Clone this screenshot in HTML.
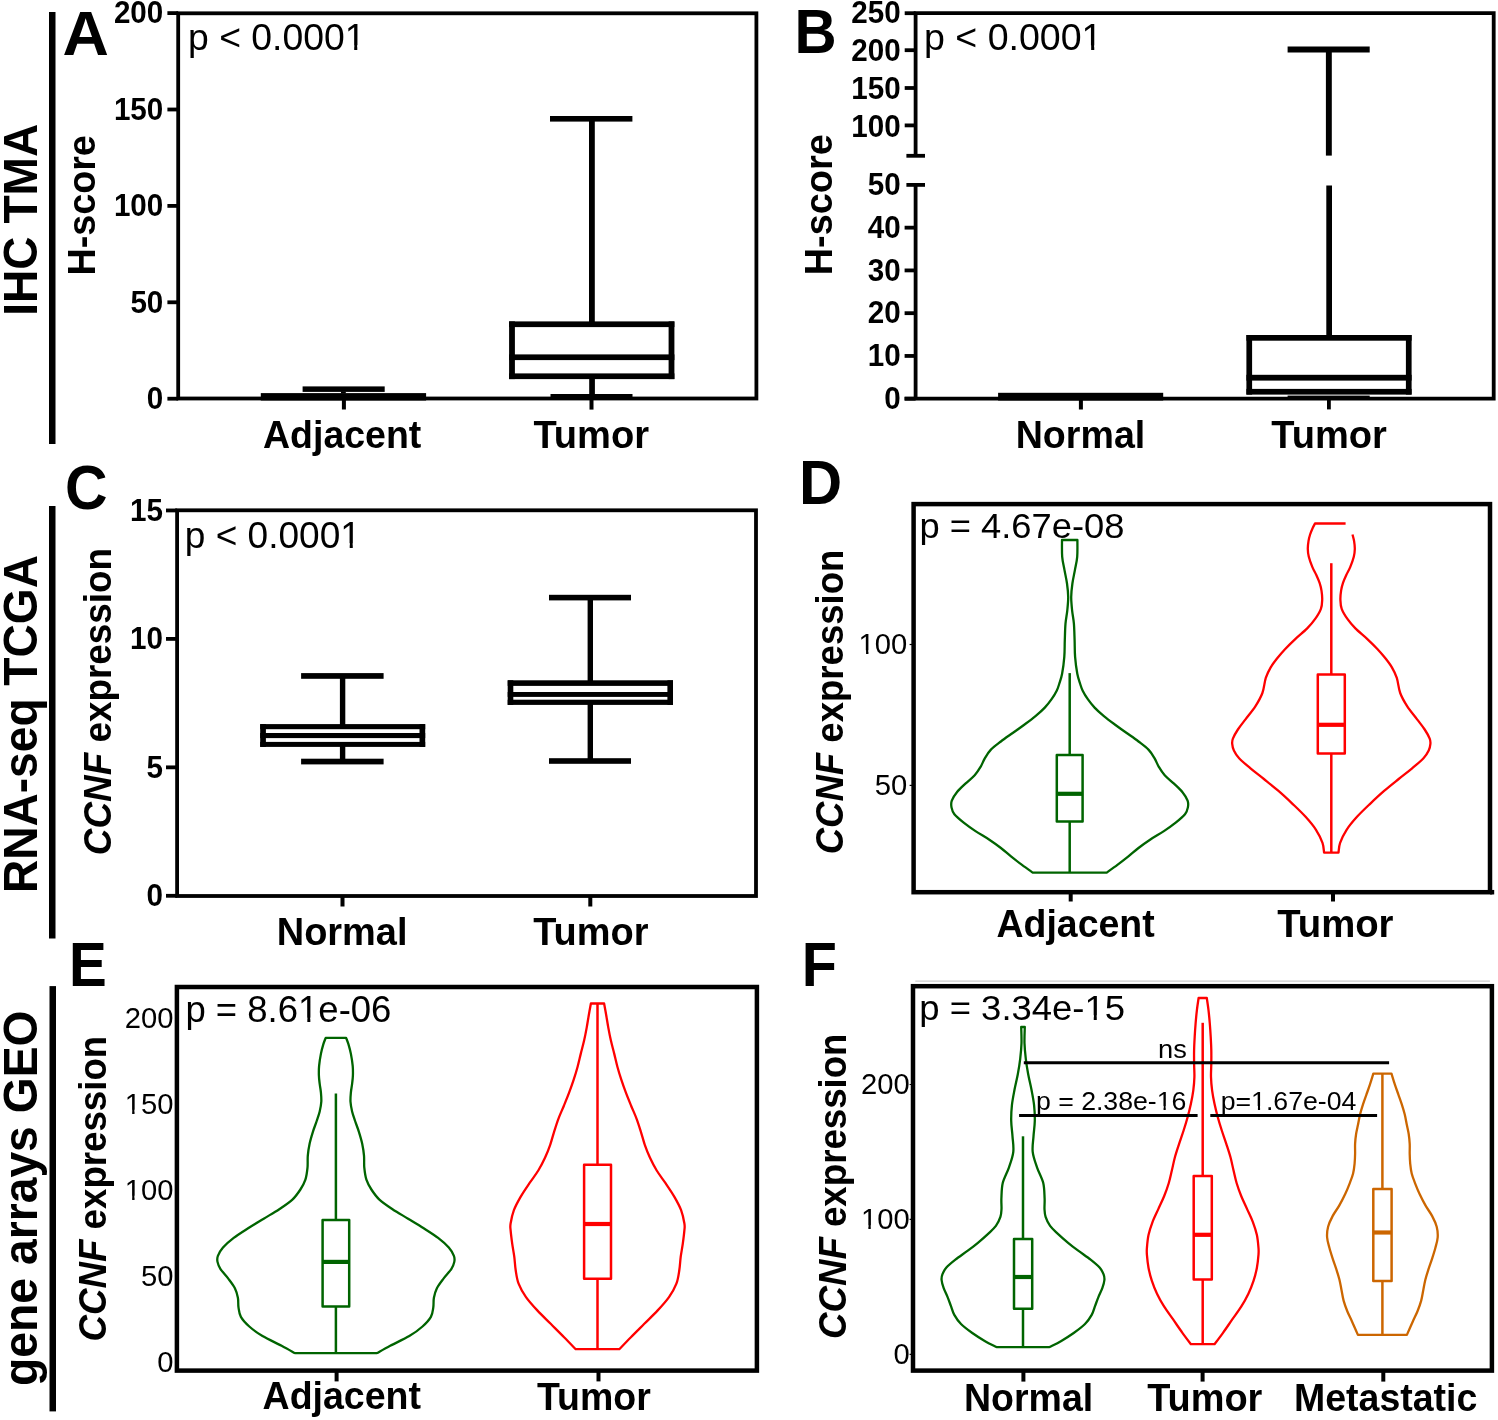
<!DOCTYPE html>
<html><head><meta charset="utf-8"><title>figure</title>
<style>html,body{margin:0;padding:0;background:#fff;}body{width:1498px;height:1420px;overflow:hidden;}svg{display:block;will-change:transform;}text{fill:#000;}</style>
</head><body>
<svg width="1498" height="1420" viewBox="0 0 1498 1420" font-family="Liberation Sans, sans-serif">
<rect x="0" y="0" width="1498" height="1420" fill="#fff"></rect>
<rect x="49" y="12" width="6.5" height="432" fill="#000"></rect>
<rect x="49" y="506" width="6.5" height="432.5" fill="#000"></rect>
<rect x="49.5" y="986.1" width="6.5" height="425.3" fill="#000"></rect>
<text transform="translate(37,315.8) rotate(-90) scale(1.0022,1.0400)" font-size="46" font-weight="bold" text-anchor="start">IHC TMA</text>
<text transform="translate(36.8,893.1) rotate(-90) scale(1.0024,1.0400)" font-size="46" font-weight="bold" text-anchor="start">RNA-seq TCGA</text>
<text transform="translate(36.6,1385.9) rotate(-90) scale(1.0060,1.0400)" font-size="46" font-weight="bold" text-anchor="start">gene arrays GEO</text>
<text transform="translate(62.4,55) scale(1.0704,1.0400)" font-size="60" font-weight="bold" text-anchor="start">A</text>
<text transform="translate(794.45,52.8) scale(0.9721,1.0400)" font-size="60" font-weight="bold" text-anchor="start">B</text>
<text transform="translate(65.1,509.3) scale(0.9807,1.0400)" font-size="60" font-weight="bold" text-anchor="start">C</text>
<text transform="translate(798.9,504.1) scale(0.9966,1.0400)" font-size="60" font-weight="bold" text-anchor="start">D</text>
<text transform="translate(69.02,985.9) scale(0.9436,1.0400)" font-size="60" font-weight="bold" text-anchor="start">E</text>
<text transform="translate(801.85,986.2) scale(0.9590,1.0400)" font-size="60" font-weight="bold" text-anchor="start">F</text>
<rect x="178.2" y="13.3" width="578.2" height="385.2" fill="none" stroke="#000" stroke-width="3.8"></rect>
<line x1="167.4" y1="398.7" x2="178.2" y2="398.7" stroke="#000" stroke-width="3.8" stroke-linecap="butt"></line>
<text transform="translate(163.32,408.96) scale(1.0044,1.0400)" font-size="29.5" font-weight="bold" text-anchor="end">0</text>
<line x1="167.4" y1="302.3" x2="178.2" y2="302.3" stroke="#000" stroke-width="3.8" stroke-linecap="butt"></line>
<text transform="translate(163.32,312.56) scale(1.0044,1.0400)" font-size="29.5" font-weight="bold" text-anchor="end">50</text>
<line x1="167.4" y1="205.9" x2="178.2" y2="205.9" stroke="#000" stroke-width="3.8" stroke-linecap="butt"></line>
<text transform="translate(163.32,216.16) scale(1.0044,1.0400)" font-size="29.5" font-weight="bold" text-anchor="end">100</text>
<line x1="167.4" y1="109.5" x2="178.2" y2="109.5" stroke="#000" stroke-width="3.8" stroke-linecap="butt"></line>
<text transform="translate(163.32,119.76) scale(1.0044,1.0400)" font-size="29.5" font-weight="bold" text-anchor="end">150</text>
<line x1="167.4" y1="13.1" x2="178.2" y2="13.1" stroke="#000" stroke-width="3.8" stroke-linecap="butt"></line>
<text transform="translate(163.32,23.36) scale(1.0044,1.0400)" font-size="29.5" font-weight="bold" text-anchor="end">200</text>
<rect x="341.9" y="398.5" width="4" height="11" fill="#000"></rect>
<rect x="589.5" y="398.5" width="4" height="11.1" fill="#000"></rect>
<rect x="260.8" y="393.1" width="165.3" height="7.4" fill="#000"></rect>
<rect x="302.6" y="386.4" width="82.1" height="5.5" fill="#000"></rect>
<rect x="341" y="391.5" width="4.8" height="2" fill="#000"></rect>
<rect x="550" y="116" width="82.4" height="5.6" fill="#000"></rect>
<rect x="589" y="119" width="5.8" height="203" fill="#000"></rect>
<rect x="509.1" y="321.4" width="5.8" height="57.7" fill="#000"></rect>
<rect x="668.6" y="321.4" width="5.8" height="57.7" fill="#000"></rect>
<rect x="509.1" y="321.4" width="165.3" height="5.7" fill="#000"></rect>
<rect x="509.1" y="373.4" width="165.3" height="5.7" fill="#000"></rect>
<rect x="509.1" y="354.4" width="165.3" height="5.7" fill="#000"></rect>
<rect x="589.2" y="378" width="5.7" height="17" fill="#000"></rect>
<rect x="550.5" y="394" width="82" height="4" fill="#000"></rect>
<text class="r1" transform="translate(188,50) scale(1.0373,1.0400)" font-size="36" font-weight="normal" text-anchor="start">p &lt; 0.0001</text><g transform="translate(188,50) scale(1.0373,1.0400)"><rect x="152.91" y="-4.69" width="7.31" height="5.39" fill="#fff"></rect><rect x="163.20" y="-4.69" width="7.03" height="5.39" fill="#fff"></rect></g>
<text transform="translate(263,448) scale(1.0000,1.0400)" font-size="37.5" font-weight="bold" text-anchor="start">Adjacent</text>
<text transform="translate(533.4,448) scale(1.0162,1.0400)" font-size="37.5" font-weight="bold" text-anchor="start">Tumor</text>
<text transform="translate(95,275.6) rotate(-90) scale(1.0059,1.0400)" font-size="37.5" font-weight="bold" text-anchor="start">H-score</text>
<path d="M915.6,155.8 L915.6,13.2 L1493.7,13.2 L1493.7,398.6 L904.6,398.6" fill="none" stroke="#000" stroke-width="3.8" stroke-linejoin="miter"></path>
<line x1="915.6" y1="184.9" x2="915.6" y2="398.6" stroke="#000" stroke-width="3.8" stroke-linecap="butt"></line>
<line x1="906.4" y1="155.8" x2="925" y2="155.8" stroke="#000" stroke-width="3.8" stroke-linecap="butt"></line>
<line x1="906.4" y1="184.9" x2="925" y2="184.9" stroke="#000" stroke-width="3.8" stroke-linecap="butt"></line>
<line x1="904.7" y1="13.2" x2="915.6" y2="13.2" stroke="#000" stroke-width="3.8" stroke-linecap="butt"></line>
<text transform="translate(900.62,23.31) scale(1.0044,1.0400)" font-size="29.5" font-weight="bold" text-anchor="end">250</text>
<line x1="904.7" y1="50.2" x2="915.6" y2="50.2" stroke="#000" stroke-width="3.8" stroke-linecap="butt"></line>
<text transform="translate(900.62,61.16) scale(1.0044,1.0400)" font-size="29.5" font-weight="bold" text-anchor="end">200</text>
<line x1="904.7" y1="88" x2="915.6" y2="88" stroke="#000" stroke-width="3.8" stroke-linecap="butt"></line>
<text transform="translate(900.62,99.06) scale(1.0044,1.0400)" font-size="29.5" font-weight="bold" text-anchor="end">150</text>
<line x1="904.7" y1="125.4" x2="915.6" y2="125.4" stroke="#000" stroke-width="3.8" stroke-linecap="butt"></line>
<text transform="translate(900.62,136.56) scale(1.0044,1.0400)" font-size="29.5" font-weight="bold" text-anchor="end">100</text>
<line x1="904.6" y1="398.7" x2="915.6" y2="398.7" stroke="#000" stroke-width="3.8" stroke-linecap="butt"></line>
<text transform="translate(900.62,408.96) scale(1.0044,1.0400)" font-size="29.5" font-weight="bold" text-anchor="end">0</text>
<line x1="904.6" y1="355.94" x2="915.6" y2="355.94" stroke="#000" stroke-width="3.8" stroke-linecap="butt"></line>
<text transform="translate(900.62,366.2) scale(1.0044,1.0400)" font-size="29.5" font-weight="bold" text-anchor="end">10</text>
<line x1="904.6" y1="313.18" x2="915.6" y2="313.18" stroke="#000" stroke-width="3.8" stroke-linecap="butt"></line>
<text transform="translate(900.62,323.44) scale(1.0044,1.0400)" font-size="29.5" font-weight="bold" text-anchor="end">20</text>
<line x1="904.6" y1="270.42" x2="915.6" y2="270.42" stroke="#000" stroke-width="3.8" stroke-linecap="butt"></line>
<text transform="translate(900.62,280.68) scale(1.0044,1.0400)" font-size="29.5" font-weight="bold" text-anchor="end">30</text>
<line x1="904.6" y1="227.66" x2="915.6" y2="227.66" stroke="#000" stroke-width="3.8" stroke-linecap="butt"></line>
<text transform="translate(900.62,237.92) scale(1.0044,1.0400)" font-size="29.5" font-weight="bold" text-anchor="end">40</text>
<text transform="translate(900.62,195.16) scale(1.0044,1.0400)" font-size="29.5" font-weight="bold" text-anchor="end">50</text>
<rect x="1078.9" y="398.6" width="4" height="10.9" fill="#000"></rect>
<rect x="1327" y="398.6" width="3.8" height="10.8" fill="#000"></rect>
<rect x="998.1" y="392.8" width="165.1" height="7.7" fill="#000"></rect>
<rect x="1287.6" y="46.5" width="82.1" height="6" fill="#000"></rect>
<rect x="1325.9" y="49" width="5.9" height="106.6" fill="#000"></rect>
<rect x="1326.3" y="185.5" width="5.7" height="150.5" fill="#000"></rect>
<rect x="1246.4" y="335" width="5.7" height="59.6" fill="#000"></rect>
<rect x="1405.9" y="335" width="5.7" height="59.6" fill="#000"></rect>
<rect x="1246.4" y="335" width="165.2" height="5.7" fill="#000"></rect>
<rect x="1246.4" y="388.9" width="165.2" height="5.7" fill="#000"></rect>
<rect x="1246.4" y="374.8" width="165.2" height="5.8" fill="#000"></rect>
<rect x="1287.6" y="395.6" width="82.1" height="1.9" fill="#000"></rect>
<text class="r1" transform="translate(924,50.2) scale(1.0433,1.0400)" font-size="36" font-weight="normal" text-anchor="start">p &lt; 0.0001</text><g transform="translate(924,50.2) scale(1.0433,1.0400)"><rect x="152.91" y="-4.69" width="7.31" height="5.39" fill="#fff"></rect><rect x="163.20" y="-4.69" width="7.03" height="5.39" fill="#fff"></rect></g>
<text transform="translate(1015.7,448) scale(1.0033,1.0400)" font-size="37.5" font-weight="bold" text-anchor="start">Normal</text>
<text transform="translate(1271.35,447.8) scale(1.0151,1.0400)" font-size="37.5" font-weight="bold" text-anchor="start">Tumor</text>
<text transform="translate(832.4,275.3) rotate(-90) scale(1.0105,1.0400)" font-size="37.5" font-weight="bold" text-anchor="start">H-score</text>
<rect x="177.1" y="510.3" width="578.9" height="385.7" fill="none" stroke="#000" stroke-width="3.8"></rect>
<line x1="166" y1="895.8" x2="177.1" y2="895.8" stroke="#000" stroke-width="3.8" stroke-linecap="butt"></line>
<text transform="translate(163.02,906.16) scale(1.0044,1.0400)" font-size="29.5" font-weight="bold" text-anchor="end">0</text>
<line x1="166" y1="767.35" x2="177.1" y2="767.35" stroke="#000" stroke-width="3.8" stroke-linecap="butt"></line>
<text transform="translate(163.02,777.71) scale(1.0044,1.0400)" font-size="29.5" font-weight="bold" text-anchor="end">5</text>
<line x1="166" y1="638.9" x2="177.1" y2="638.9" stroke="#000" stroke-width="3.8" stroke-linecap="butt"></line>
<text transform="translate(163.02,649.26) scale(1.0044,1.0400)" font-size="29.5" font-weight="bold" text-anchor="end">10</text>
<line x1="166" y1="510.45" x2="177.1" y2="510.45" stroke="#000" stroke-width="3.8" stroke-linecap="butt"></line>
<text transform="translate(163.02,520.81) scale(1.0044,1.0400)" font-size="29.5" font-weight="bold" text-anchor="end">15</text>
<rect x="340.5" y="896" width="4" height="10.5" fill="#000"></rect>
<rect x="588.3" y="896" width="4" height="10.5" fill="#000"></rect>
<rect x="301.1" y="673.1" width="82.5" height="5.7" fill="#000"></rect>
<rect x="301.1" y="758.7" width="82.5" height="5.7" fill="#000"></rect>
<rect x="339.9" y="676" width="5.4" height="49" fill="#000"></rect>
<rect x="339.9" y="746" width="5.4" height="15" fill="#000"></rect>
<rect x="260.2" y="724.1" width="5.7" height="22.8" fill="#000"></rect>
<rect x="419.5" y="724.1" width="5.7" height="22.8" fill="#000"></rect>
<rect x="260.2" y="724.1" width="165" height="5.1" fill="#000"></rect>
<rect x="260.2" y="741.9" width="165" height="5" fill="#000"></rect>
<rect x="260.2" y="733" width="165" height="5.1" fill="#000"></rect>
<rect x="549" y="594.8" width="82" height="5.6" fill="#000"></rect>
<rect x="549" y="758.2" width="82" height="5.6" fill="#000"></rect>
<rect x="587.6" y="597" width="5.4" height="84" fill="#000"></rect>
<rect x="587.6" y="704" width="5.4" height="57" fill="#000"></rect>
<rect x="507.7" y="680.3" width="5.6" height="24.6" fill="#000"></rect>
<rect x="667.4" y="680.3" width="5.6" height="24.6" fill="#000"></rect>
<rect x="507.7" y="680.3" width="165.3" height="5.6" fill="#000"></rect>
<rect x="507.7" y="699.7" width="165.3" height="5.2" fill="#000"></rect>
<rect x="507.7" y="692" width="165.3" height="4.9" fill="#000"></rect>
<text class="r1" transform="translate(184.8,548) scale(1.0291,1.0400)" font-size="36" font-weight="normal" text-anchor="start">p &lt; 0.0001</text><g transform="translate(184.8,548) scale(1.0291,1.0400)"><rect x="152.93" y="-4.69" width="7.31" height="5.39" fill="#fff"></rect><rect x="163.22" y="-4.69" width="7.03" height="5.39" fill="#fff"></rect></g>
<text transform="translate(276.75,945.2) scale(1.0122,1.0400)" font-size="37.5" font-weight="bold" text-anchor="start">Normal</text>
<text transform="translate(533.2,944.5) scale(1.0125,1.0400)" font-size="37.5" font-weight="bold" text-anchor="start">Tumor</text>
<text transform="translate(110.9,855.15) rotate(-90) scale(0.9828,1.0400)" font-size="37.5" font-weight="bold" text-anchor="start"><tspan font-style="italic">CCNF</tspan> expression</text>
<rect x="913.6" y="504.1" width="576.4" height="388.1" fill="none" stroke="#000" stroke-width="4.5"></rect>
<rect x="1490" y="889.95" width="4.2" height="4.5" fill="#000"></rect>
<line x1="909.6" y1="644.5" x2="912" y2="644.5" stroke="#000" stroke-width="1.2" stroke-linecap="butt"></line>
<text class="r1" transform="translate(907.34,654.41) scale(1.0139,1.0000)" font-size="28.8" font-weight="normal" text-anchor="end">100</text><g transform="translate(907.34,654.41) scale(1.0139,1.0000)"><rect x="-46.76" y="-4.15" width="6.05" height="4.85" fill="#fff"></rect><rect x="-38.37" y="-4.15" width="5.82" height="4.85" fill="#fff"></rect></g>
<line x1="909.6" y1="785.4" x2="912" y2="785.4" stroke="#000" stroke-width="1.2" stroke-linecap="butt"></line>
<text transform="translate(907.34,795.31) scale(1.0139,1.0000)" font-size="28.8" font-weight="normal" text-anchor="end">50</text>
<line x1="1070.7" y1="892" x2="1070.7" y2="901.5" stroke="#000" stroke-width="4" stroke-linecap="butt"></line>
<line x1="1333" y1="892" x2="1333" y2="901.5" stroke="#000" stroke-width="4" stroke-linecap="butt"></line>
<text transform="translate(919.4,538) scale(1.0091,1.0000)" font-size="36" font-weight="normal" text-anchor="start">p = 4.67e-08</text>
<text transform="translate(996.45,937.3) scale(0.9994,1.0400)" font-size="37.5" font-weight="bold" text-anchor="start">Adjacent</text>
<text transform="translate(1277.2,937.3) scale(1.0215,1.0400)" font-size="37.5" font-weight="bold" text-anchor="start">Tumor</text>
<text transform="translate(842.6,854.35) rotate(-90) scale(0.9751,1.0400)" font-size="37.5" font-weight="bold" text-anchor="start"><tspan font-style="italic">CCNF</tspan> expression</text>
<path d="M1062,540 C1062.03,542.8 1061.78,551.78 1062.2,556.8 C1062.62,561.82 1063.7,565.65 1064.5,570.1 C1065.3,574.55 1066.38,579.03 1067,583.5 C1067.62,587.97 1068.15,592.43 1068.2,596.9 C1068.25,601.37 1067.75,605.85 1067.3,610.3 C1066.85,614.75 1065.92,618.65 1065.5,623.6 C1065.08,628.55 1065,634.45 1064.8,640 C1064.6,645.55 1064.75,651.27 1064.3,656.9 C1063.85,662.53 1062.95,669.28 1062.1,673.8 C1061.25,678.32 1060.1,681.18 1059.2,684 C1058.3,686.82 1057.97,688.17 1056.7,690.7 C1055.43,693.23 1053.58,696.38 1051.6,699.2 C1049.62,702.02 1047.48,704.78 1044.8,707.6 C1042.12,710.42 1038.87,713.28 1035.5,716.1 C1032.13,718.92 1028.4,721.68 1024.6,724.5 C1020.8,727.32 1016.65,730.17 1012.7,733 C1008.75,735.83 1004.57,738.68 1000.9,741.5 C997.23,744.32 993.38,747.08 990.7,749.9 C988.02,752.72 986.48,755.58 984.8,758.4 C983.12,761.22 982.28,763.98 980.6,766.8 C978.92,769.62 977.23,772.48 974.7,775.3 C972.17,778.12 968.37,780.88 965.4,783.7 C962.43,786.52 959.17,789.38 956.9,792.2 C954.63,795.02 952.7,798.07 951.8,800.6 C950.9,803.13 951.07,805.13 951.5,807.4 C951.93,809.67 952.37,811.67 954.4,814.2 C956.43,816.73 960.18,819.78 963.7,822.6 C967.22,825.42 971.28,828.28 975.5,831.1 C979.72,833.92 984.77,836.68 989,839.5 C993.23,842.32 997.23,845.18 1000.9,848 C1004.57,850.82 1007.48,853.58 1011,856.4 C1014.52,859.22 1018.38,862.2 1022,864.9 C1025.62,867.6 1030.92,871.32 1032.7,872.6 L1106.7,872.6 C1108.48,871.32 1113.78,867.6 1117.4,864.9 C1121.02,862.2 1124.88,859.22 1128.4,856.4 C1131.92,853.58 1134.83,850.82 1138.5,848 C1142.17,845.18 1146.17,842.32 1150.4,839.5 C1154.63,836.68 1159.68,833.92 1163.9,831.1 C1168.12,828.28 1172.18,825.42 1175.7,822.6 C1179.22,819.78 1182.97,816.73 1185,814.2 C1187.03,811.67 1187.47,809.67 1187.9,807.4 C1188.33,805.13 1188.5,803.13 1187.6,800.6 C1186.7,798.07 1184.77,795.02 1182.5,792.2 C1180.23,789.38 1176.97,786.52 1174,783.7 C1171.03,780.88 1167.23,778.12 1164.7,775.3 C1162.17,772.48 1160.48,769.62 1158.8,766.8 C1157.12,763.98 1156.28,761.22 1154.6,758.4 C1152.92,755.58 1151.38,752.72 1148.7,749.9 C1146.02,747.08 1142.17,744.32 1138.5,741.5 C1134.83,738.68 1130.65,735.83 1126.7,733 C1122.75,730.17 1118.6,727.32 1114.8,724.5 C1111,721.68 1107.27,718.92 1103.9,716.1 C1100.53,713.28 1097.28,710.42 1094.6,707.6 C1091.92,704.78 1089.78,702.02 1087.8,699.2 C1085.82,696.38 1083.97,693.23 1082.7,690.7 C1081.43,688.17 1081.1,686.82 1080.2,684 C1079.3,681.18 1078.15,678.32 1077.3,673.8 C1076.45,669.28 1075.55,662.53 1075.1,656.9 C1074.65,651.27 1074.8,645.55 1074.6,640 C1074.4,634.45 1074.32,628.55 1073.9,623.6 C1073.48,618.65 1072.55,614.75 1072.1,610.3 C1071.65,605.85 1071.15,601.37 1071.2,596.9 C1071.25,592.43 1071.78,587.97 1072.4,583.5 C1073.02,579.03 1074.1,574.55 1074.9,570.1 C1075.7,565.65 1076.78,561.82 1077.2,556.8 C1077.62,551.78 1077.37,542.8 1077.4,540 Z" fill="none" stroke="#006400" stroke-width="2.3" stroke-linejoin="round"></path>
<line x1="1069.7" y1="673.1" x2="1069.7" y2="755" stroke="#006400" stroke-width="2.5" stroke-linecap="butt"></line>
<line x1="1069.7" y1="821.6" x2="1069.7" y2="872.6" stroke="#006400" stroke-width="2.5" stroke-linecap="butt"></line>
<rect x="1056.8" y="755" width="25.8" height="66.6" fill="none" stroke="#006400" stroke-width="2.5" stroke-linejoin="round"></rect>
<line x1="1056.8" y1="793.8" x2="1082.6" y2="793.8" stroke="#006400" stroke-width="4.2" stroke-linecap="butt"></line>
<path d="M1345.6,523.5 L1315,523.5 C1314.62,524.25 1313.52,526.17 1312.7,528 C1311.88,529.83 1310.8,532.32 1310.1,534.5 C1309.4,536.68 1308.88,538.7 1308.5,541.1 C1308.12,543.5 1307.75,546.3 1307.8,548.9 C1307.85,551.5 1308.03,553.67 1308.8,556.7 C1309.57,559.73 1311.15,564.07 1312.4,567.1 C1313.65,570.13 1315.1,572.28 1316.3,574.9 C1317.5,577.52 1318.73,580.18 1319.6,582.8 C1320.47,585.42 1321.07,587.78 1321.5,590.6 C1321.93,593.42 1322.3,596.67 1322.2,599.7 C1322.1,602.73 1322.1,605.55 1320.9,608.8 C1319.7,612.05 1317.28,615.93 1315,619.2 C1312.72,622.47 1310.45,625.13 1307.2,628.4 C1303.95,631.67 1299.2,635.33 1295.5,638.8 C1291.8,642.27 1288.05,645.95 1285,649.2 C1281.95,652.45 1279.58,655.27 1277.2,658.3 C1274.82,661.33 1272.6,664.13 1270.7,667.4 C1268.8,670.67 1267.18,673.63 1265.8,677.9 C1264.42,682.17 1264.12,688.3 1262.4,693 C1260.68,697.7 1258.28,701.75 1255.5,706.1 C1252.72,710.45 1248.63,715.2 1245.7,719.1 C1242.77,723 1240.03,726.25 1237.9,729.5 C1235.77,732.75 1233.85,736.22 1232.9,738.6 C1231.95,740.98 1232.03,741.83 1232.2,743.8 C1232.37,745.77 1232.75,748 1233.9,750.4 C1235.05,752.8 1236.28,755.17 1239.1,758.2 C1241.92,761.23 1246.67,765.13 1250.8,768.6 C1254.93,772.07 1259.33,775.32 1263.9,779 C1268.47,782.68 1273.43,786.57 1278.2,790.7 C1282.97,794.83 1287.93,799.45 1292.5,803.8 C1297.07,808.15 1301.68,812.47 1305.6,816.8 C1309.52,821.13 1313.18,825.45 1316,829.8 C1318.82,834.15 1321.15,839.1 1322.5,842.9 C1323.85,846.7 1323.83,850.98 1324.1,852.6 L1338.5,852.6 C1338.77,850.98 1338.75,846.7 1340.1,842.9 C1341.45,839.1 1343.78,834.15 1346.6,829.8 C1349.42,825.45 1353.08,821.13 1357,816.8 C1360.92,812.47 1365.53,808.15 1370.1,803.8 C1374.67,799.45 1379.63,794.83 1384.4,790.7 C1389.17,786.57 1394.13,782.68 1398.7,779 C1403.27,775.32 1407.67,772.07 1411.8,768.6 C1415.93,765.13 1420.68,761.23 1423.5,758.2 C1426.32,755.17 1427.55,752.8 1428.7,750.4 C1429.85,748 1430.23,745.77 1430.4,743.8 C1430.57,741.83 1430.65,740.98 1429.7,738.6 C1428.75,736.22 1426.83,732.75 1424.7,729.5 C1422.57,726.25 1419.83,723 1416.9,719.1 C1413.97,715.2 1409.88,710.45 1407.1,706.1 C1404.32,701.75 1401.92,697.7 1400.2,693 C1398.48,688.3 1398.18,682.17 1396.8,677.9 C1395.42,673.63 1393.8,670.67 1391.9,667.4 C1390,664.13 1387.78,661.33 1385.4,658.3 C1383.02,655.27 1380.65,652.45 1377.6,649.2 C1374.55,645.95 1370.8,642.27 1367.1,638.8 C1363.4,635.33 1358.65,631.67 1355.4,628.4 C1352.15,625.13 1349.88,622.47 1347.6,619.2 C1345.32,615.93 1342.9,612.05 1341.7,608.8 C1340.5,605.55 1340.5,602.73 1340.4,599.7 C1340.3,596.67 1340.67,593.42 1341.1,590.6 C1341.53,587.78 1342.13,585.42 1343,582.8 C1343.87,580.18 1345.1,577.52 1346.3,574.9 C1347.5,572.28 1348.95,570.13 1350.2,567.1 C1351.45,564.07 1353.03,559.73 1353.8,556.7 C1354.57,553.67 1354.75,551.5 1354.8,548.9 C1354.85,546.3 1354.48,543.5 1354.1,541.1 C1353.72,538.7 1352.77,535.6 1352.5,534.5" fill="none" stroke="#ff0000" stroke-width="2.3" stroke-linejoin="round"></path>
<line x1="1331.3" y1="563.2" x2="1331.3" y2="674.6" stroke="#ff0000" stroke-width="2.5" stroke-linecap="butt"></line>
<line x1="1331.3" y1="753.6" x2="1331.3" y2="852.6" stroke="#ff0000" stroke-width="2.5" stroke-linecap="butt"></line>
<rect x="1317.8" y="674.6" width="27" height="79" fill="none" stroke="#ff0000" stroke-width="2.5" stroke-linejoin="round"></rect>
<line x1="1317.8" y1="724.8" x2="1344.8" y2="724.8" stroke="#ff0000" stroke-width="4.2" stroke-linecap="butt"></line>
<rect x="176.9" y="987" width="580" height="383.6" fill="none" stroke="#000" stroke-width="4.5"></rect>
<text transform="translate(173.44,1371.71) scale(1.0139,1.0000)" font-size="28.8" font-weight="normal" text-anchor="end">0</text>
<text transform="translate(173.44,1285.76) scale(1.0139,1.0000)" font-size="28.8" font-weight="normal" text-anchor="end">50</text>
<text class="r1" transform="translate(173.44,1199.81) scale(1.0139,1.0000)" font-size="28.8" font-weight="normal" text-anchor="end">100</text><g transform="translate(173.44,1199.81) scale(1.0139,1.0000)"><rect x="-46.76" y="-4.15" width="6.05" height="4.85" fill="#fff"></rect><rect x="-38.37" y="-4.15" width="5.82" height="4.85" fill="#fff"></rect></g>
<text class="r1" transform="translate(173.44,1113.86) scale(1.0139,1.0000)" font-size="28.8" font-weight="normal" text-anchor="end">150</text><g transform="translate(173.44,1113.86) scale(1.0139,1.0000)"><rect x="-46.76" y="-4.15" width="6.05" height="4.85" fill="#fff"></rect><rect x="-38.37" y="-4.15" width="5.82" height="4.85" fill="#fff"></rect></g>
<text transform="translate(173.44,1027.91) scale(1.0139,1.0000)" font-size="28.8" font-weight="normal" text-anchor="end">200</text>
<line x1="336.6" y1="1370.6" x2="336.6" y2="1381.4" stroke="#000" stroke-width="4" stroke-linecap="butt"></line>
<line x1="598.5" y1="1370.6" x2="598.5" y2="1381.4" stroke="#000" stroke-width="4" stroke-linecap="butt"></line>
<text class="r1" transform="translate(185.4,1022.3) scale(1.0141,1.0000)" font-size="36" font-weight="normal" text-anchor="start">p = 8.61e-06</text><g transform="translate(185.4,1022.3) scale(1.0141,1.0000)"><rect x="112.92" y="-4.69" width="7.31" height="5.39" fill="#fff"></rect><rect x="123.21" y="-4.69" width="7.03" height="5.39" fill="#fff"></rect></g>
<text transform="translate(262.55,1408.7) scale(1.0007,1.0400)" font-size="37.5" font-weight="bold" text-anchor="start">Adjacent</text>
<text transform="translate(537,1410) scale(1.0000,1.0400)" font-size="37.5" font-weight="bold" text-anchor="start">Tumor</text>
<text transform="translate(106.4,1341.4) rotate(-90) scale(0.9779,1.0400)" font-size="37.5" font-weight="bold" text-anchor="start"><tspan font-style="italic">CCNF</tspan> expression</text>
<path d="M325.7,1037.8 C325.3,1038.9 324.1,1041.72 323.3,1044.4 C322.5,1047.08 321.6,1050.32 320.9,1053.9 C320.2,1057.48 319.43,1062.3 319.1,1065.9 C318.77,1069.5 318.8,1072.5 318.9,1075.5 C319,1078.5 319.37,1081.1 319.7,1083.9 C320.03,1086.7 320.63,1089.32 320.9,1092.3 C321.17,1095.28 321.5,1098.62 321.3,1101.8 C321.1,1104.98 320.47,1108.2 319.7,1111.4 C318.93,1114.6 317.83,1117.6 316.7,1121 C315.57,1124.4 314.08,1128.02 312.9,1131.8 C311.72,1135.58 310.45,1139.72 309.6,1143.7 C308.75,1147.68 308.15,1151.7 307.8,1155.7 C307.45,1159.7 307.9,1163.7 307.5,1167.7 C307.1,1171.7 306.58,1176.07 305.4,1179.7 C304.22,1183.33 302.57,1186.18 300.4,1189.5 C298.23,1192.82 295.92,1196.32 292.4,1199.6 C288.88,1202.88 284.08,1206.02 279.3,1209.2 C274.52,1212.38 268.9,1215.52 263.7,1218.7 C258.5,1221.88 253.1,1225.1 248.1,1228.3 C243.1,1231.5 237.88,1234.7 233.7,1237.9 C229.52,1241.1 225.63,1244.5 223,1247.5 C220.37,1250.5 218.82,1253.5 217.9,1255.9 C216.98,1258.3 217.07,1259.72 217.5,1261.9 C217.93,1264.08 218.7,1266.22 220.5,1269 C222.3,1271.78 225.9,1275.4 228.3,1278.6 C230.7,1281.8 233.3,1285 234.9,1288.2 C236.5,1291.4 237.3,1294.6 237.9,1297.8 C238.5,1301 238,1304.22 238.5,1307.4 C239,1310.58 239.1,1313.72 240.9,1316.9 C242.7,1320.08 245.7,1323.3 249.3,1326.5 C252.9,1329.7 257.12,1332.9 262.5,1336.1 C267.88,1339.3 276.22,1342.87 281.6,1345.7 C286.98,1348.53 292.6,1351.87 294.8,1353.1 L377,1353.1 C379.2,1351.87 384.82,1348.53 390.2,1345.7 C395.58,1342.87 403.92,1339.3 409.3,1336.1 C414.68,1332.9 418.9,1329.7 422.5,1326.5 C426.1,1323.3 429.1,1320.08 430.9,1316.9 C432.7,1313.72 432.8,1310.58 433.3,1307.4 C433.8,1304.22 433.3,1301 433.9,1297.8 C434.5,1294.6 435.3,1291.4 436.9,1288.2 C438.5,1285 441.1,1281.8 443.5,1278.6 C445.9,1275.4 449.5,1271.78 451.3,1269 C453.1,1266.22 453.87,1264.08 454.3,1261.9 C454.73,1259.72 454.82,1258.3 453.9,1255.9 C452.98,1253.5 451.43,1250.5 448.8,1247.5 C446.17,1244.5 442.28,1241.1 438.1,1237.9 C433.92,1234.7 428.7,1231.5 423.7,1228.3 C418.7,1225.1 413.3,1221.88 408.1,1218.7 C402.9,1215.52 397.28,1212.38 392.5,1209.2 C387.72,1206.02 382.92,1202.88 379.4,1199.6 C375.88,1196.32 373.57,1192.82 371.4,1189.5 C369.23,1186.18 367.58,1183.33 366.4,1179.7 C365.22,1176.07 364.7,1171.7 364.3,1167.7 C363.9,1163.7 364.35,1159.7 364,1155.7 C363.65,1151.7 363.05,1147.68 362.2,1143.7 C361.35,1139.72 360.08,1135.58 358.9,1131.8 C357.72,1128.02 356.23,1124.4 355.1,1121 C353.97,1117.6 352.87,1114.6 352.1,1111.4 C351.33,1108.2 350.7,1104.98 350.5,1101.8 C350.3,1098.62 350.63,1095.28 350.9,1092.3 C351.17,1089.32 351.77,1086.7 352.1,1083.9 C352.43,1081.1 352.8,1078.5 352.9,1075.5 C353,1072.5 353.03,1069.5 352.7,1065.9 C352.37,1062.3 351.6,1057.48 350.9,1053.9 C350.2,1050.32 349.3,1047.08 348.5,1044.4 C347.7,1041.72 346.5,1038.9 346.1,1037.8 Z" fill="none" stroke="#006400" stroke-width="2.3" stroke-linejoin="round"></path>
<line x1="335.9" y1="1093.5" x2="335.9" y2="1220.1" stroke="#006400" stroke-width="2.5" stroke-linecap="butt"></line>
<line x1="335.9" y1="1306.6" x2="335.9" y2="1353.1" stroke="#006400" stroke-width="2.5" stroke-linecap="butt"></line>
<rect x="322.6" y="1220.1" width="26.6" height="86.5" fill="none" stroke="#006400" stroke-width="2.5" stroke-linejoin="round"></rect>
<line x1="322.6" y1="1261.9" x2="349.2" y2="1261.9" stroke="#006400" stroke-width="4.2" stroke-linecap="butt"></line>
<path d="M590.9,1003.5 C590.57,1005.33 589.6,1010.48 588.9,1014.5 C588.2,1018.52 587.5,1023.25 586.7,1027.6 C585.9,1031.95 585.08,1036.27 584.1,1040.6 C583.12,1044.93 581.88,1049.25 580.8,1053.6 C579.72,1057.95 578.78,1062.35 577.6,1066.7 C576.42,1071.05 575.12,1075.37 573.7,1079.7 C572.28,1084.03 570.73,1088.37 569.1,1092.7 C567.47,1097.03 565.68,1101.35 563.9,1105.7 C562.12,1110.05 560.03,1114.45 558.4,1118.8 C556.77,1123.15 555.47,1127.47 554.1,1131.8 C552.73,1136.13 551.72,1140.47 550.2,1144.8 C548.68,1149.13 546.98,1153.52 545,1157.8 C543.02,1162.08 540.92,1166.23 538.3,1170.5 C535.68,1174.77 532.25,1179.02 529.3,1183.4 C526.35,1187.78 523.17,1192.35 520.6,1196.8 C518.03,1201.25 515.57,1205.65 513.9,1210.1 C512.23,1214.55 511.15,1220.15 510.6,1223.5 C510.05,1226.85 510.33,1226.85 510.6,1230.2 C510.87,1233.55 511.58,1239.15 512.2,1243.6 C512.82,1248.05 513.72,1252.45 514.3,1256.9 C514.88,1261.35 514.98,1265.83 515.7,1270.3 C516.42,1274.77 516.88,1279.23 518.6,1283.7 C520.32,1288.17 522.88,1292.65 526,1297.1 C529.12,1301.55 533.18,1305.95 537.3,1310.4 C541.42,1314.85 546.23,1319.33 550.7,1323.8 C555.17,1328.27 559.93,1332.97 564.1,1337.2 C568.27,1341.43 573.77,1347.2 575.7,1349.2 L619.3,1349.2 C621.23,1347.2 626.73,1341.43 630.9,1337.2 C635.07,1332.97 639.83,1328.27 644.3,1323.8 C648.77,1319.33 653.58,1314.85 657.7,1310.4 C661.82,1305.95 665.88,1301.55 669,1297.1 C672.12,1292.65 674.68,1288.17 676.4,1283.7 C678.12,1279.23 678.58,1274.77 679.3,1270.3 C680.02,1265.83 680.12,1261.35 680.7,1256.9 C681.28,1252.45 682.18,1248.05 682.8,1243.6 C683.42,1239.15 684.13,1233.55 684.4,1230.2 C684.67,1226.85 684.95,1226.85 684.4,1223.5 C683.85,1220.15 682.77,1214.55 681.1,1210.1 C679.43,1205.65 676.97,1201.25 674.4,1196.8 C671.83,1192.35 668.65,1187.78 665.7,1183.4 C662.75,1179.02 659.32,1174.77 656.7,1170.5 C654.08,1166.23 651.98,1162.08 650,1157.8 C648.02,1153.52 646.32,1149.13 644.8,1144.8 C643.28,1140.47 642.27,1136.13 640.9,1131.8 C639.53,1127.47 638.23,1123.15 636.6,1118.8 C634.97,1114.45 632.88,1110.05 631.1,1105.7 C629.32,1101.35 627.53,1097.03 625.9,1092.7 C624.27,1088.37 622.72,1084.03 621.3,1079.7 C619.88,1075.37 618.58,1071.05 617.4,1066.7 C616.22,1062.35 615.28,1057.95 614.2,1053.6 C613.12,1049.25 611.88,1044.93 610.9,1040.6 C609.92,1036.27 609.1,1031.95 608.3,1027.6 C607.5,1023.25 606.8,1018.52 606.1,1014.5 C605.4,1010.48 604.43,1005.33 604.1,1003.5 Z" fill="none" stroke="#ff0000" stroke-width="2.3" stroke-linejoin="round"></path>
<line x1="597.5" y1="1003.5" x2="597.5" y2="1164.8" stroke="#ff0000" stroke-width="2.5" stroke-linecap="butt"></line>
<line x1="597.5" y1="1278.8" x2="597.5" y2="1349.2" stroke="#ff0000" stroke-width="2.5" stroke-linecap="butt"></line>
<rect x="584.1" y="1164.8" width="26.9" height="114" fill="none" stroke="#ff0000" stroke-width="2.5" stroke-linejoin="round"></rect>
<line x1="584.1" y1="1224" x2="611" y2="1224" stroke="#ff0000" stroke-width="4.2" stroke-linecap="butt"></line>
<line x1="915.3" y1="981.1" x2="1489.9" y2="981.1" stroke="#cccccc" stroke-width="1.2" stroke-linecap="butt"></line>
<rect x="913" y="986.2" width="578.9" height="384.4" fill="none" stroke="#000" stroke-width="4.5"></rect>
<line x1="909.6" y1="1354.4" x2="911" y2="1354.4" stroke="#000" stroke-width="1.2" stroke-linecap="butt"></line>
<text transform="translate(909.64,1364.31) scale(1.0139,1.0000)" font-size="28.8" font-weight="normal" text-anchor="end">0</text>
<line x1="909.6" y1="1219.45" x2="911" y2="1219.45" stroke="#000" stroke-width="1.2" stroke-linecap="butt"></line>
<text class="r1" transform="translate(909.64,1229.36) scale(1.0139,1.0000)" font-size="28.8" font-weight="normal" text-anchor="end">100</text><g transform="translate(909.64,1229.36) scale(1.0139,1.0000)"><rect x="-46.76" y="-4.15" width="6.05" height="4.85" fill="#fff"></rect><rect x="-38.37" y="-4.15" width="5.82" height="4.85" fill="#fff"></rect></g>
<line x1="909.6" y1="1084.5" x2="911" y2="1084.5" stroke="#000" stroke-width="1.2" stroke-linecap="butt"></line>
<text transform="translate(909.64,1094.41) scale(1.0139,1.0000)" font-size="28.8" font-weight="normal" text-anchor="end">200</text>
<line x1="1023.4" y1="1370.6" x2="1023.4" y2="1381.6" stroke="#000" stroke-width="4" stroke-linecap="butt"></line>
<line x1="1202.6" y1="1370.6" x2="1202.6" y2="1381.6" stroke="#000" stroke-width="4" stroke-linecap="butt"></line>
<line x1="1383.3" y1="1370.6" x2="1383.3" y2="1381.6" stroke="#000" stroke-width="4" stroke-linecap="butt"></line>
<text class="r1" transform="translate(919.3,1019.8) scale(1.0131,1.0000)" font-size="36" font-weight="normal" text-anchor="start">p = 3.34e-15</text><g transform="translate(919.3,1019.8) scale(1.0131,1.0000)"><rect x="164.88" y="-4.69" width="7.31" height="5.39" fill="#fff"></rect><rect x="175.17" y="-4.69" width="7.03" height="5.39" fill="#fff"></rect></g>
<text transform="translate(964,1411) scale(1.0000,1.0400)" font-size="37.5" font-weight="bold" text-anchor="start">Normal</text>
<text transform="translate(1147.15,1411) scale(1.0116,1.0400)" font-size="37.5" font-weight="bold" text-anchor="start">Tumor</text>
<text transform="translate(1294,1411) scale(1.0000,1.0400)" font-size="37.5" font-weight="bold" text-anchor="start">Metastatic</text>
<text transform="translate(845.5,1339) rotate(-90) scale(0.9773,1.0400)" font-size="37.5" font-weight="bold" text-anchor="start"><tspan font-style="italic">CCNF</tspan> expression</text>
<path d="M1021.2,1027 C1021.25,1029.72 1021.67,1038 1021.5,1043.3 C1021.33,1048.6 1020.82,1053.63 1020.2,1058.8 C1019.58,1063.97 1018.75,1069.13 1017.8,1074.3 C1016.85,1079.47 1015.48,1084.63 1014.5,1089.8 C1013.52,1094.97 1012.45,1100.13 1011.9,1105.3 C1011.35,1110.47 1011.1,1115.63 1011.2,1120.8 C1011.3,1125.97 1012.15,1131.13 1012.5,1136.3 C1012.85,1141.47 1013.88,1146.63 1013.3,1151.8 C1012.72,1156.97 1010.75,1162.13 1009,1167.3 C1007.25,1172.47 1004.07,1177.63 1002.8,1182.8 C1001.53,1187.97 1001.62,1193.93 1001.4,1198.3 C1001.18,1202.67 1001.67,1205.9 1001.5,1209 C1001.33,1212.1 1001.33,1214.08 1000.4,1216.9 C999.47,1219.72 997.95,1223.08 995.9,1225.9 C993.85,1228.72 991.1,1230.98 988.1,1233.8 C985.1,1236.62 981.28,1239.98 977.9,1242.8 C974.52,1245.62 971.55,1247.88 967.8,1250.7 C964.05,1253.52 958.97,1256.88 955.4,1259.7 C951.83,1262.52 948.57,1265.15 946.4,1267.6 C944.23,1270.05 943.2,1272.33 942.4,1274.4 C941.6,1276.47 941.4,1277.75 941.6,1280 C941.8,1282.25 942.62,1285.08 943.6,1287.9 C944.58,1290.72 946.28,1293.9 947.5,1296.9 C948.72,1299.9 949.77,1302.9 950.9,1305.9 C952.03,1308.9 952.62,1311.88 954.3,1314.9 C955.98,1317.92 958,1320.98 961,1324 C964,1327.02 968.35,1330.18 972.3,1333 C976.25,1335.82 980.67,1338.55 984.7,1340.9 C988.73,1343.25 994.53,1346.07 996.5,1347.1 L1049.5,1347.1 C1051.47,1346.07 1057.27,1343.25 1061.3,1340.9 C1065.33,1338.55 1069.75,1335.82 1073.7,1333 C1077.65,1330.18 1082,1327.02 1085,1324 C1088,1320.98 1090.02,1317.92 1091.7,1314.9 C1093.38,1311.88 1093.97,1308.9 1095.1,1305.9 C1096.23,1302.9 1097.28,1299.9 1098.5,1296.9 C1099.72,1293.9 1101.42,1290.72 1102.4,1287.9 C1103.38,1285.08 1104.2,1282.25 1104.4,1280 C1104.6,1277.75 1104.4,1276.47 1103.6,1274.4 C1102.8,1272.33 1101.77,1270.05 1099.6,1267.6 C1097.43,1265.15 1094.17,1262.52 1090.6,1259.7 C1087.03,1256.88 1081.95,1253.52 1078.2,1250.7 C1074.45,1247.88 1071.48,1245.62 1068.1,1242.8 C1064.72,1239.98 1060.9,1236.62 1057.9,1233.8 C1054.9,1230.98 1052.15,1228.72 1050.1,1225.9 C1048.05,1223.08 1046.53,1219.72 1045.6,1216.9 C1044.67,1214.08 1044.67,1212.1 1044.5,1209 C1044.33,1205.9 1044.82,1202.67 1044.6,1198.3 C1044.38,1193.93 1044.47,1187.97 1043.2,1182.8 C1041.93,1177.63 1038.75,1172.47 1037,1167.3 C1035.25,1162.13 1033.28,1156.97 1032.7,1151.8 C1032.12,1146.63 1033.15,1141.47 1033.5,1136.3 C1033.85,1131.13 1034.7,1125.97 1034.8,1120.8 C1034.9,1115.63 1034.65,1110.47 1034.1,1105.3 C1033.55,1100.13 1032.48,1094.97 1031.5,1089.8 C1030.52,1084.63 1029.15,1079.47 1028.2,1074.3 C1027.25,1069.13 1026.42,1063.97 1025.8,1058.8 C1025.18,1053.63 1024.67,1048.6 1024.5,1043.3 C1024.33,1038 1024.75,1029.72 1024.8,1027 Z" fill="none" stroke="#006400" stroke-width="2.3" stroke-linejoin="round"></path>
<line x1="1023" y1="1136.3" x2="1023" y2="1238.9" stroke="#006400" stroke-width="2.5" stroke-linecap="butt"></line>
<line x1="1023" y1="1308.8" x2="1023" y2="1347.1" stroke="#006400" stroke-width="2.5" stroke-linecap="butt"></line>
<rect x="1014" y="1238.9" width="18.2" height="69.9" fill="none" stroke="#006400" stroke-width="2.5" stroke-linejoin="round"></rect>
<line x1="1014" y1="1277" x2="1032.2" y2="1277" stroke="#006400" stroke-width="4.2" stroke-linecap="butt"></line>
<path d="M1198.6,998 C1198.32,1000.02 1197.4,1005.85 1196.9,1010.1 C1196.4,1014.35 1195.97,1019.05 1195.6,1023.5 C1195.23,1027.95 1194.95,1032.35 1194.7,1036.8 C1194.45,1041.25 1194.2,1045.73 1194.1,1050.2 C1194,1054.67 1194.05,1059.13 1194.1,1063.6 C1194.15,1068.07 1194.53,1072.53 1194.4,1077 C1194.27,1081.47 1193.88,1085.93 1193.3,1090.4 C1192.72,1094.87 1191.85,1099.33 1190.9,1103.8 C1189.95,1108.27 1188.82,1112.75 1187.6,1117.2 C1186.38,1121.65 1185.02,1126.05 1183.6,1130.5 C1182.18,1134.95 1180.55,1139.43 1179.1,1143.9 C1177.65,1148.37 1176.1,1152.9 1174.9,1157.3 C1173.7,1161.7 1172.92,1166.02 1171.9,1170.3 C1170.88,1174.58 1170.08,1178.72 1168.8,1183 C1167.52,1187.28 1165.95,1191.65 1164.2,1196 C1162.45,1200.35 1160.25,1204.75 1158.3,1209.1 C1156.35,1213.45 1154.13,1217.77 1152.5,1222.1 C1150.87,1226.43 1149.43,1230.77 1148.5,1235.1 C1147.57,1239.43 1147.17,1244.85 1146.9,1248.1 C1146.63,1251.35 1146.63,1251.33 1146.9,1254.6 C1147.17,1257.87 1147.68,1263.35 1148.5,1267.7 C1149.32,1272.05 1150.38,1276.37 1151.8,1280.7 C1153.22,1285.03 1154.93,1289.37 1157,1293.7 C1159.07,1298.03 1161.48,1302.37 1164.2,1306.7 C1166.92,1311.03 1170.27,1315.35 1173.3,1319.7 C1176.33,1324.05 1179.47,1328.72 1182.4,1332.8 C1185.33,1336.88 1189.48,1342.3 1190.9,1344.2 L1214.5,1344.2 C1215.92,1342.3 1220.07,1336.88 1223,1332.8 C1225.93,1328.72 1229.07,1324.05 1232.1,1319.7 C1235.13,1315.35 1238.48,1311.03 1241.2,1306.7 C1243.92,1302.37 1246.33,1298.03 1248.4,1293.7 C1250.47,1289.37 1252.18,1285.03 1253.6,1280.7 C1255.02,1276.37 1256.08,1272.05 1256.9,1267.7 C1257.72,1263.35 1258.23,1257.87 1258.5,1254.6 C1258.77,1251.33 1258.77,1251.35 1258.5,1248.1 C1258.23,1244.85 1257.83,1239.43 1256.9,1235.1 C1255.97,1230.77 1254.53,1226.43 1252.9,1222.1 C1251.27,1217.77 1249.05,1213.45 1247.1,1209.1 C1245.15,1204.75 1242.95,1200.35 1241.2,1196 C1239.45,1191.65 1237.88,1187.28 1236.6,1183 C1235.32,1178.72 1234.52,1174.58 1233.5,1170.3 C1232.48,1166.02 1231.7,1161.7 1230.5,1157.3 C1229.3,1152.9 1227.75,1148.37 1226.3,1143.9 C1224.85,1139.43 1223.22,1134.95 1221.8,1130.5 C1220.38,1126.05 1219.02,1121.65 1217.8,1117.2 C1216.58,1112.75 1215.45,1108.27 1214.5,1103.8 C1213.55,1099.33 1212.68,1094.87 1212.1,1090.4 C1211.52,1085.93 1211.13,1081.47 1211,1077 C1210.87,1072.53 1211.25,1068.07 1211.3,1063.6 C1211.35,1059.13 1211.4,1054.67 1211.3,1050.2 C1211.2,1045.73 1210.95,1041.25 1210.7,1036.8 C1210.45,1032.35 1210.17,1027.95 1209.8,1023.5 C1209.43,1019.05 1209,1014.35 1208.5,1010.1 C1208,1005.85 1207.08,1000.02 1206.8,998 Z" fill="none" stroke="#ff0000" stroke-width="2.3" stroke-linejoin="round"></path>
<line x1="1202.7" y1="1022.8" x2="1202.7" y2="1176" stroke="#ff0000" stroke-width="2.5" stroke-linecap="butt"></line>
<line x1="1202.7" y1="1279.6" x2="1202.7" y2="1344.2" stroke="#ff0000" stroke-width="2.5" stroke-linecap="butt"></line>
<rect x="1193.7" y="1176" width="18.1" height="103.6" fill="none" stroke="#ff0000" stroke-width="2.5" stroke-linejoin="round"></rect>
<line x1="1193.7" y1="1234.8" x2="1211.8" y2="1234.8" stroke="#ff0000" stroke-width="4.2" stroke-linecap="butt"></line>
<path d="M1373.3,1073.7 C1372.73,1075.53 1371.05,1081.22 1369.9,1084.7 C1368.75,1088.18 1367.55,1091.32 1366.4,1094.6 C1365.25,1097.88 1364.05,1101.12 1363,1104.4 C1361.95,1107.68 1360.92,1111 1360.1,1114.3 C1359.28,1117.6 1358.77,1120.92 1358.1,1124.2 C1357.43,1127.48 1356.6,1130.72 1356.1,1134 C1355.6,1137.28 1355.27,1140.6 1355.1,1143.9 C1354.93,1147.2 1355.18,1150.52 1355.1,1153.8 C1355.02,1157.08 1354.93,1160.32 1354.6,1163.6 C1354.27,1166.88 1353.92,1170.22 1353.1,1173.5 C1352.28,1176.78 1351.02,1179.88 1349.7,1183.3 C1348.38,1186.72 1346.95,1190.28 1345.2,1194 C1343.45,1197.72 1341.3,1201.92 1339.2,1205.6 C1337.1,1209.28 1334.45,1212.58 1332.6,1216.1 C1330.75,1219.62 1329.02,1223.18 1328.1,1226.7 C1327.18,1230.22 1326.88,1233.68 1327.1,1237.2 C1327.32,1240.72 1328.48,1244.27 1329.4,1247.8 C1330.32,1251.33 1331.47,1254.88 1332.6,1258.4 C1333.73,1261.92 1335.07,1265.38 1336.2,1268.9 C1337.33,1272.42 1338.52,1275.98 1339.4,1279.5 C1340.28,1283.02 1340.8,1286.48 1341.5,1290 C1342.2,1293.52 1342.63,1297.07 1343.6,1300.6 C1344.57,1304.13 1345.88,1307.68 1347.3,1311.2 C1348.72,1314.72 1350.33,1317.75 1352.1,1321.7 C1353.87,1325.65 1356.93,1332.7 1357.9,1334.9 L1406.9,1334.9 C1407.87,1332.7 1410.93,1325.65 1412.7,1321.7 C1414.47,1317.75 1416.08,1314.72 1417.5,1311.2 C1418.92,1307.68 1420.23,1304.13 1421.2,1300.6 C1422.17,1297.07 1422.6,1293.52 1423.3,1290 C1424,1286.48 1424.52,1283.02 1425.4,1279.5 C1426.28,1275.98 1427.47,1272.42 1428.6,1268.9 C1429.73,1265.38 1431.07,1261.92 1432.2,1258.4 C1433.33,1254.88 1434.48,1251.33 1435.4,1247.8 C1436.32,1244.27 1437.48,1240.72 1437.7,1237.2 C1437.92,1233.68 1437.62,1230.22 1436.7,1226.7 C1435.78,1223.18 1434.05,1219.62 1432.2,1216.1 C1430.35,1212.58 1427.7,1209.28 1425.6,1205.6 C1423.5,1201.92 1421.35,1197.72 1419.6,1194 C1417.85,1190.28 1416.42,1186.72 1415.1,1183.3 C1413.78,1179.88 1412.52,1176.78 1411.7,1173.5 C1410.88,1170.22 1410.53,1166.88 1410.2,1163.6 C1409.87,1160.32 1409.78,1157.08 1409.7,1153.8 C1409.62,1150.52 1409.87,1147.2 1409.7,1143.9 C1409.53,1140.6 1409.2,1137.28 1408.7,1134 C1408.2,1130.72 1407.37,1127.48 1406.7,1124.2 C1406.03,1120.92 1405.52,1117.6 1404.7,1114.3 C1403.88,1111 1402.85,1107.68 1401.8,1104.4 C1400.75,1101.12 1399.55,1097.88 1398.4,1094.6 C1397.25,1091.32 1396.05,1088.18 1394.9,1084.7 C1393.75,1081.22 1392.07,1075.53 1391.5,1073.7 Z" fill="none" stroke="#cc6600" stroke-width="2.3" stroke-linejoin="round"></path>
<line x1="1382.4" y1="1073.7" x2="1382.4" y2="1189.1" stroke="#cc6600" stroke-width="2.5" stroke-linecap="butt"></line>
<line x1="1382.4" y1="1281.1" x2="1382.4" y2="1334.9" stroke="#cc6600" stroke-width="2.5" stroke-linecap="butt"></line>
<rect x="1373.3" y="1189.1" width="18.3" height="92" fill="none" stroke="#cc6600" stroke-width="2.5" stroke-linejoin="round"></rect>
<line x1="1373.3" y1="1232.5" x2="1391.6" y2="1232.5" stroke="#cc6600" stroke-width="4.2" stroke-linecap="butt"></line>
<line x1="1023.8" y1="1062.8" x2="1389.1" y2="1062.8" stroke="#000" stroke-width="3" stroke-linecap="butt"></line>
<line x1="1019.1" y1="1115.5" x2="1197.6" y2="1115.5" stroke="#000" stroke-width="3" stroke-linecap="butt"></line>
<line x1="1210.3" y1="1115.5" x2="1377.1" y2="1115.5" stroke="#000" stroke-width="3" stroke-linecap="butt"></line>
<text transform="translate(1158.1,1058) scale(1.0493,1.0000)" font-size="26" font-weight="normal" text-anchor="start">ns</text>
<text class="r1" transform="translate(1035.9,1109.9) scale(1.0264,1.0000)" font-size="26" font-weight="normal" text-anchor="start">p = 2.38e-16</text><g transform="translate(1035.9,1109.9) scale(1.0264,1.0000)"><rect x="118.81" y="-3.94" width="5.56" height="4.64" fill="#fff"></rect><rect x="126.47" y="-3.94" width="5.35" height="4.64" fill="#fff"></rect></g>
<text class="r1" transform="translate(1220.7,1109.9) scale(1.0264,1.0000)" font-size="26" font-weight="normal" text-anchor="start">p=1.67e-04</text><g transform="translate(1220.7,1109.9) scale(1.0264,1.0000)"><rect x="30.70" y="-3.94" width="5.56" height="4.64" fill="#fff"></rect><rect x="38.36" y="-3.94" width="5.35" height="4.64" fill="#fff"></rect></g>
</svg>
</body></html>
